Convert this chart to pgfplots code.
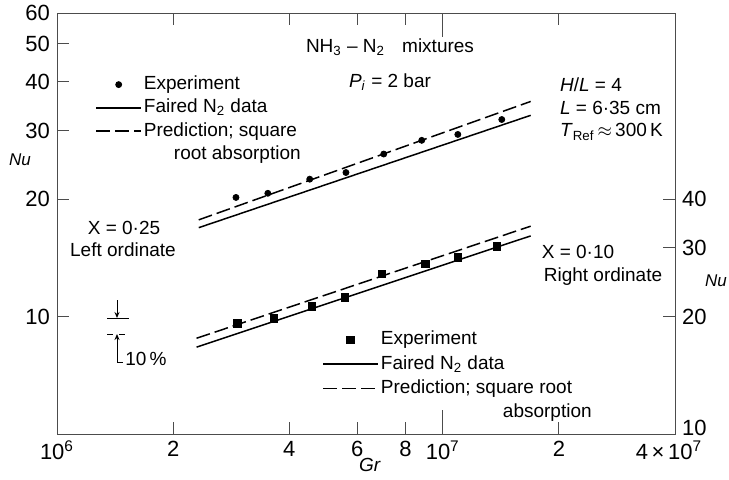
\documentclass[border=0pt]{standalone}
\usepackage{fontspec}
\setmainfont{Liberation Sans}
\usepackage{pgfplots}
\pgfplotsset{compat=1.18}
\usetikzlibrary{arrows.meta}
\begin{document}
\begin{tikzpicture}[font=\fontsize{9.5}{11}\selectfont]
\begin{axis}[
  scale only axis, width=309pt, height=210.5pt,
  xmode=log, ymode=log, xmin=1e6, xmax=4e7,
  tick align=inside,
  major tick length=6pt,
  axis line style={black!70, line width=0.5pt},
  tick style={black!70, line width=0.5pt},
  tick label style={font=\fontsize{11}{12}\selectfont},
  legend cell align=left,
  ymin=5, ymax=60,
  xtick={1e6,2e6,4e6,6e6,8e6,2e7,4e7},
  xticklabels={10\textsuperscript{6},2,4,6,8,2,\hspace*{-6pt}4\,×\,10\textsuperscript{7}},
  extra x ticks={1e7}, extra x tick labels={10\textsuperscript{7}},
  extra x tick style={major tick length=12pt},
  ytick={10,20,30,40,50,60}, yticklabels={10,20,30,40,50,60},
  ytick pos=left,
  minor xtick={}, minor ytick={},
  legend image code/.code={\draw[mark repeat=2,mark phase=2,#1] plot coordinates {(0pt,0pt)(11.25pt,0pt)(22.5pt,0pt)};},
  legend style={at={(rel axis cs:0.0615,0.857)}, anchor=north west, draw=none, fill=none,
    inner sep=0pt, row sep=0.6pt, font=\fontsize{9.5}{11}\selectfont,
    nodes={inner sep=1pt, text height=7pt, text depth=2pt}},
]
\addplot[only marks, mark=*, mark size=1.5pt, black] coordinates {
 (2.91e6,20.2)(3.52e6,20.7)(4.52e6,22.5)(5.61e6,23.4)(7.03e6,26.1)(8.82e6,28.3)(1.094e7,29.3)(1.422e7,32.0)};
\addlegendentry{Experiment}
\addplot[black, line width=0.75pt] coordinates {(2.33e6,16.9)(1.69e7,32.8)};
\addlegendentry{Faired N\textsubscript{2} data}
\addplot[black, line width=0.75pt, dash pattern=on 7pt off 2.5pt] coordinates {(2.33e6,17.7)(1.69e7,35.6)};
\addlegendentry{Prediction; square}
\addlegendimage{empty legend}
\addlegendentry{\hspace*{15pt}root absorption}
\end{axis}
\begin{axis}[
  scale only axis, width=309pt, height=210.5pt,
  xmode=log, ymode=log, xmin=1e6, xmax=4e7,
  tick align=inside,
  major tick length=6pt,
  axis line style={black!70, line width=0.5pt},
  tick style={black!70, line width=0.5pt},
  tick label style={font=\fontsize{11}{12}\selectfont},
  legend cell align=left,
  ymin=10, ymax=120,
  axis x line=none, axis y line*=right,
  ytick={10,20,30,40}, yticklabels={\raisebox{6pt}{10},20,30,40},
  minor ytick={},
  legend image code/.code={\draw[mark repeat=2,mark phase=2,#1] plot coordinates {(0pt,0pt)(13.75pt,0pt)(27.5pt,0pt)};},
  legend style={at={(rel axis cs:0.4288,0.251)}, anchor=north west, draw=none, fill=none,
    inner sep=0pt, row sep=1.2pt, font=\fontsize{9.5}{11}\selectfont,
    nodes={inner sep=1pt, text height=7pt, text depth=2pt}},
]
\addplot[only marks, mark=square*, mark size=1.9pt, black] coordinates {
 (2.93e6,19.2)(3.65e6,19.8)(4.58e6,21.2)(5.57e6,22.4)(6.95e6,25.7)(9.03e6,27.3)(1.094e7,28.4)(1.38e7,30.3)};
\addlegendentry{Experiment}
\addplot[black, line width=0.75pt] coordinates {(2.30e6,16.7)(1.69e7,32.2)};
\addlegendentry{Faired N\textsubscript{2} data}
\addplot[black, line width=0.75pt, dash pattern=on 7pt off 2.5pt] coordinates {(2.30e6,17.6)(1.69e7,34.1)};
\addlegendentry{Prediction; square root}
\addlegendimage{empty legend}
\addlegendentry{\hspace*{61pt}absorption}
\end{axis}
\begin{scope}[shift={(-28.5pt,217pt)}, x=0.5pt, y=-0.5pt]
\node at (390,47) {NH\textsubscript{3} -- N\textsubscript{2}\hspace{0.9em}mixtures};
\node at (390,82) {\textit{P}\textsubscript{\textit{i}} = 2 bar};
\node[anchor=west] at (553,85) {\textit{H}/\textit{L} = 4};
\node[anchor=west] at (553,108) {\textit{L} = 6·35 cm};
\node[anchor=west] at (553,132) {\textit{T}\textsubscript{Ref}\,$\approx$\,300\,K};
\node at (124,228) {X = 0·25};
\node at (123,250) {Left ordinate};
\node at (578,252) {X = 0·10};
\node at (603,277) {Right ordinate};
\node[font=\fontsize{8.5}{10}\selectfont] at (20,160) {\textit{Nu}};
\node[font=\fontsize{8.5}{10}\selectfont] at (716,281) {\textit{Nu}};
\node at (370,465) {\textit{Gr}};
\draw[line width=0.5pt, -{Stealth[length=3pt,width=2.5pt]}] (117,300)--(117,318);
\draw[line width=0.5pt] (107,318)--(129,318);
\draw[line width=0.5pt, dashed] (107,334)--(129,334);
\draw[line width=0.5pt, {Stealth[length=3pt,width=2.5pt]}-] (117,334)--(117,362)--(123,362);
\node[anchor=west, inner sep=1pt] at (123,359) {10\,\%};
\end{scope}
\pgfresetboundingbox
\useasboundingbox (-28.5pt,-22.5pt) rectangle (336pt,217pt);
\end{tikzpicture}
\end{document}
